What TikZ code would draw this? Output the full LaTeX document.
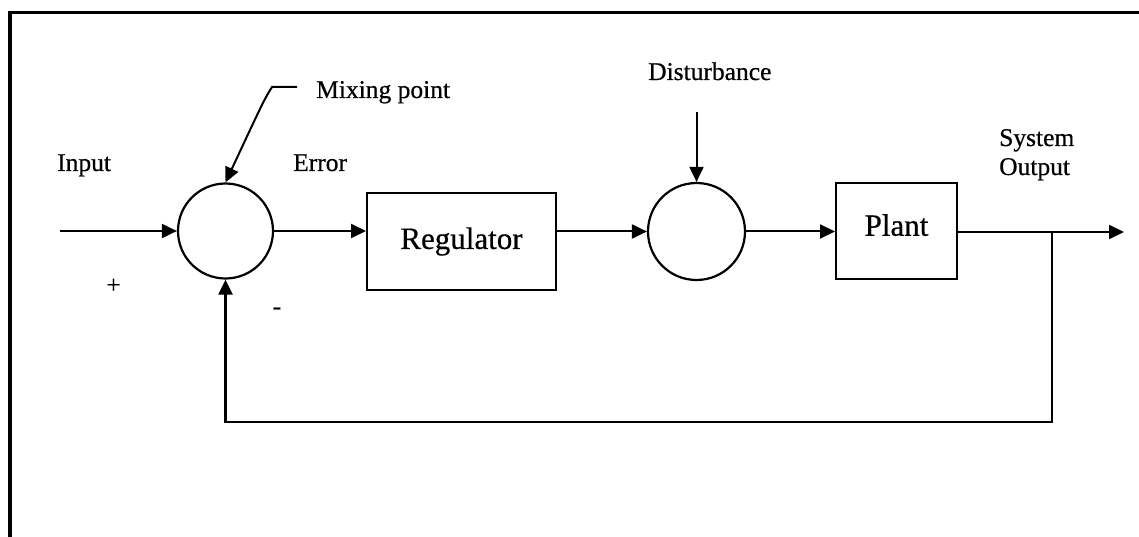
\documentclass[tikz,border=0pt]{standalone}
\usepackage{fontspec}
\setmainfont{Liberation Serif}[FakeBold=0.6]
\usetikzlibrary{arrows.meta}
\begin{document}
\begin{tikzpicture}[x=1pt,y=-1pt,
  line/.style={line width=2pt},
  arr/.style={line, -{Triangle[length=15pt,width=14pt]}},
  sumpt/.style={circle, draw, line width=2.2pt, minimum size=95pt, inner sep=0pt},
  block/.style={draw, line width=2pt, inner sep=0pt, font=\fontsize{31}{34}\selectfont},
  lbl/.style={font=\fontsize{25.5}{28}\selectfont, inner sep=0pt}]
\useasboundingbox (0,0) rectangle (1139,537);
% frame (top and left sides)
\draw[line width=3.5pt] (10,537) -- (10,12.5) -- (1139,12.5);
% summing points
\node[sumpt] (s1) at (225.5,231) {};
\node[sumpt, minimum size=97pt] (s2) at (696.5,231.5) {};
% blocks
\node[block, minimum width=189pt, minimum height=97pt] (reg) at (461.5,241.5) {Regulator};
\node[block, minimum width=121pt, minimum height=96pt, text depth=12pt] (plant) at (896.5,231) {Plant};
% labels
\node[lbl, anchor=base west] (input) at (57,171) {Input};
\node[lbl, anchor=base west] (error) at (293,171) {Error};
\node[lbl, anchor=base west] (mix) at (316,98) {Mixing point};
\node[lbl, anchor=base west] (dist) at (648,80) {Disturbance};
\node[lbl, anchor=base west] (sys) at (999,146) {System};
\node[lbl, anchor=base west] (outl) at (999,175) {Output};
\node[lbl] (plus) at (113.5,286) {+};
\node[lbl] (minus) at (277,311) {-};
% coordinates
\coordinate (inS) at (60,231);
\coordinate (outE) at (1124,232);
\coordinate (dtop) at (696.5,112);
\coordinate (mixA) at (297,87);
\coordinate (mixB) at (272,87);
\coordinate (fb) at (1052,232);
\coordinate (fbc) at (1052,422);
% connectors
\draw[arr] (inS) -- (s1.west);
\draw[arr] (s1.east) -- (s1.east -| reg.west);
\draw[arr] (reg.east |- s2.west) -- (s2.west);
\draw[arr] (s2.east) -- (s2.east -| plant.west);
\draw[arr] (plant.east |- outE) -- (outE);
\draw[arr] (dtop) -- (s2.north);
\draw[arr] (mixA) -- (mixB) .. controls (264,100) .. (s1.north);
\draw[arr, line width=2.6pt] (fb) -- (fbc) -| (s1.south);
\end{tikzpicture}
\end{document}
